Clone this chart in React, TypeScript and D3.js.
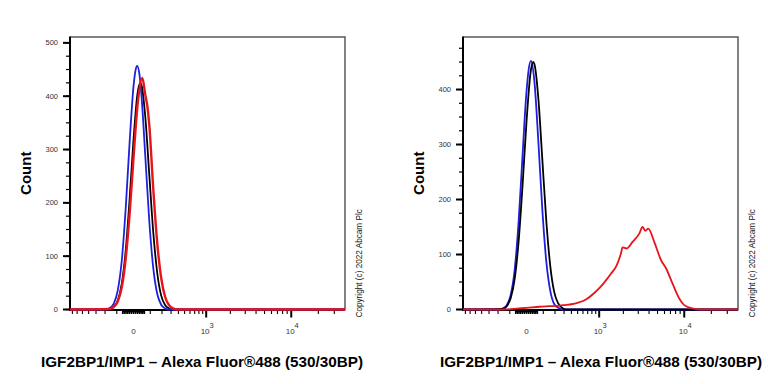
import React from "react";
import * as d3 from "d3";

// fluorescence axis (biexponential-like display, approximated with symlog)
const X_DOMAIN: [number, number] = [-755, 39400];
const X_MINOR_TICKS = [
  -700, -600, -500, -400, -300, -200, -100,
  -60, -50, -40, -30, -20, -10, 0, 10, 20, 30, 40, 50, 60,
  100, 200, 300, 400, 500, 600, 700, 800, 900,
  2000, 3000, 4000, 5000, 6000, 7000, 8000, 9000,
  20000, 30000,
];
const X_MAJOR_TICKS = [1000, 10000];
const X_LABELS = [
  { v: 0, base: "0", exp: "" },
  { v: 1000, base: "10", exp: "3" },
  { v: 10000, base: "10", exp: "4" },
];

const LEFT_Y_TICKS = [0, 100, 200, 300, 400, 500];
const RIGHT_Y_TICKS = [0, 100, 200, 300, 400];

const X_TITLE = "IGF2BP1/IMP1 – Alexa Fluor®488 (530/30BP)";
const COPYRIGHT = "Copyright (c) 2022 Abcam Plc";

// [intensity, count]
const leftBlack = [
  [-755, 0], [-156, 0], [-123, 5], [-93, 17], [-66, 48], [-42, 109], [-20, 206], [0, 319],
  [20, 405], [35, 425], [42, 421], [66, 360], [93, 252], [123, 144], [156, 68],
  [192, 26], [233, 8], [277, 2], [326, 0], [39400, 0],
];
const leftBlue = [
  [-755, 0], [-192, 0], [-156, 3], [-123, 11], [-93, 36], [-66, 91], [-42, 187], [-20, 312],
  [0, 419], [10, 449], [18, 457], [31, 440], [42, 402], [66, 286], [93, 165],
  [123, 77], [156, 29], [192, 9], [233, 2], [277, 0], [39400, 0],
];
const leftRed = [
  [-755, 0], [-156, 1], [-123, 5], [-93, 15], [-66, 41], [-42, 94], [-20, 178], [0, 285],
  [20, 383], [47, 434], [66, 402], [80, 380], [93, 345], [123, 225], [156, 124],
  [192, 59], [233, 23], [277, 8], [326, 2], [381, 0], [39400, 0],
];

const rightBlue = [
  [-755, 0], [-192, 0], [-156, 2], [-123, 8], [-93, 27], [-66, 73], [-42, 160], [-20, 281],
  [0, 397], [10, 435], [22, 452], [42, 414], [66, 306], [93, 182], [123, 87],
  [156, 34], [192, 10], [233, 3], [277, 0], [39400, 0],
];
const rightBlack = [
  [-755, 0], [-156, 1], [-123, 6], [-93, 21], [-66, 56], [-42, 124], [-20, 226], [0, 342],
  [20, 430], [35, 450], [42, 446], [66, 384], [93, 273], [123, 161], [156, 79],
  [192, 32], [233, 11], [277, 3], [326, 0], [39400, 0],
];
const rightRed = [
  [-755, 0], [-144, 0], [-40, 2], [0, 3], [72, 5], [147, 6], [244, 7], [300, 8],
  [417, 10], [661, 18], [861, 30], [1054, 42], [1221, 53], [1410, 65], [1655, 80],
  [1871, 102], [1955, 113], [2183, 111], [2573, 123], [3082, 138], [3365, 150],
  [3615, 143], [3915, 147], [4589, 123], [5470, 90], [6237, 75], [7395, 47],
  [8790, 20], [9994, 8], [12380, 2], [14690, 0], [39400, 0],
];

const FONT = "'Liberation Sans', Arial, sans-serif";
const TOP = 37;
const ZERO_Y = 309.5;
const PLOT_W = 275;

type Curve = { data: number[][]; color: string; width: number };

function Panel(props: {
  left: number;
  yMax: number;
  yTicks: number[];
  curves: Curve[];
  titleX: number;
}) {
  const { left, yMax, yTicks, curves, titleX } = props;
  const right = left + PLOT_W;
  const x = d3.scaleSymlog().constant(190).domain(X_DOMAIN).range([left, right]);
  const y = d3.scaleLinear().domain([0, yMax]).range([ZERO_Y, TOP]);
  const line = d3
    .line<number[]>()
    .x((d) => x(d[0]))
    .y((d) => y(d[1]))
    .curve(d3.curveMonotoneX);
  const yMinor = d3.range(0, yMax, 25);

  return (
    <g>
      {/* frame top/right */}
      <path
        d={`M${left},${TOP}H${right}V${ZERO_Y + 1}`}
        fill="none"
        stroke="#5a5a5a"
        strokeWidth={1.5}
      />
      {/* y axis */}
      <line x1={left} x2={left} y1={TOP - 0.5} y2={ZERO_Y + 1.5} stroke="#000" strokeWidth={2} />
      {yMinor.map((t) => (
        <line key={"ym" + t} x1={left - 4} x2={left} y1={y(t)} y2={y(t)} stroke="#000" strokeWidth={1.2} />
      ))}
      {yTicks.map((t) => (
        <g key={"y" + t}>
          <line x1={left - 7} x2={left} y1={y(t)} y2={y(t)} stroke="#000" strokeWidth={2} />
          <text
            x={left - 12}
            y={y(t) + 2.5}
            textAnchor="end"
            fontFamily={FONT}
            fontSize={7.5}
            fill="#333"
          >
            {t}
          </text>
        </g>
      ))}
      <text
        transform={`translate(${left - 39},${(TOP + ZERO_Y) / 2}) rotate(-90)`}
        textAnchor="middle"
        fontFamily={FONT}
        fontSize={15}
        fontWeight="bold"
      >
        Count
      </text>

      {/* x axis */}
      <line x1={left - 1} x2={right} y1={ZERO_Y + 0.5} y2={ZERO_Y + 0.5} stroke="#000" strokeWidth={2} />
      <rect x={x(-60)} y={ZERO_Y} width={x(60) - x(-60)} height={3} fill="#000" />
      {X_MINOR_TICKS.map((t) => (
        <line
          key={"xm" + t}
          x1={x(t)}
          x2={x(t)}
          y1={ZERO_Y}
          y2={ZERO_Y + 4.5}
          stroke="#000"
          strokeWidth={Math.abs(t) <= 60 ? 1.5 : 1.1}
        />
      ))}
      {X_MAJOR_TICKS.map((t) => (
        <line key={"xM" + t} x1={x(t)} x2={x(t)} y1={ZERO_Y} y2={ZERO_Y + 8} stroke="#000" strokeWidth={2} />
      ))}
      {X_LABELS.map((l) => (
        <text
          key={"xl" + l.v}
          x={x(l.v) + (l.exp ? 1 : 0)}
          y={ZERO_Y + 24.5}
          textAnchor="middle"
          fontFamily={FONT}
          fontSize={8}
          fill="#333"
        >
          {l.base}
          {l.exp && (
            <tspan dy={-6} fontSize={7.5}>
              {l.exp}
            </tspan>
          )}
        </text>
      ))}

      {/* histograms */}
      {curves.map((c, i) => (
        <path key={"c" + i} d={line(c.data) || ""} fill="none" stroke={c.color} strokeWidth={c.width} strokeLinejoin="round" />
      ))}

      {/* copyright */}
      <text
        transform={`translate(${right + 17},${ZERO_Y + 8}) rotate(-90)`}
        fontFamily={FONT}
        fontSize={8.2}
        fill="#111"
      >
        {COPYRIGHT}
      </text>

      {/* x title */}
      <text
        x={titleX}
        y={367}
        textAnchor="middle"
        fontFamily={FONT}
        fontSize={15}
        fontWeight="bold"
        textLength={322}
        lengthAdjust="spacingAndGlyphs"
      >
        {X_TITLE}
      </text>
    </g>
  );
}

const BLUE = "#1f1fe0";
const RED = "#e8141c";
const BLACK = "#000000";

export default function App() {
  return (
    <svg
      width={768}
      height={384}
      style={{ position: "absolute", left: 0, top: 0, background: "#fff" }}
    >
      <rect width={768} height={384} fill="#fff" />
      <Panel
        left={70}
        yMax={511}
        yTicks={LEFT_Y_TICKS}
        titleX={202}
        curves={[
          { data: leftBlack, color: BLACK, width: 1.8 },
          { data: leftBlue, color: BLUE, width: 1.8 },
          { data: leftRed, color: RED, width: 2.4 },
        ]}
      />
      <Panel
        left={463}
        yMax={495.5}
        yTicks={RIGHT_Y_TICKS}
        titleX={601}
        curves={[
          { data: rightBlue, color: BLUE, width: 1.8 },
          { data: rightBlack, color: BLACK, width: 1.8 },
          { data: rightRed, color: RED, width: 1.8 },
        ]}
      />
    </svg>
  );
}
